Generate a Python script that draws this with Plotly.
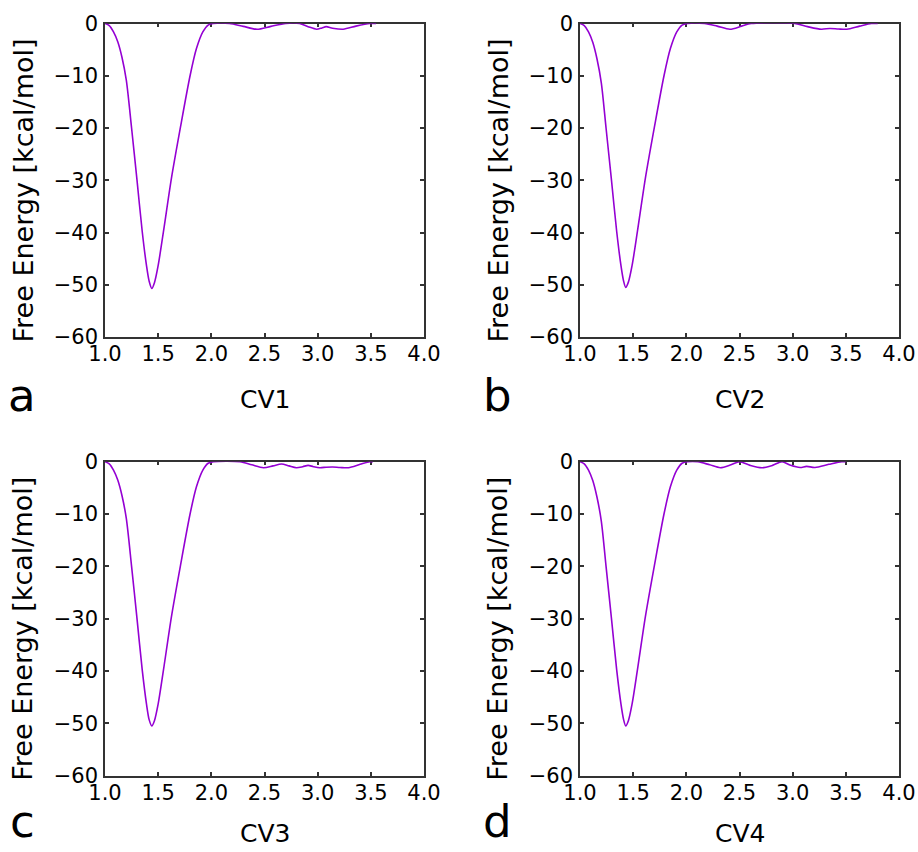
import plotly.graph_objects as go
from plotly.subplots import make_subplots

# free energy profiles
cv1_x = [1.00, 1.04, 1.08, 1.12, 1.16, 1.20, 1.25, 1.30, 1.35, 1.39, 1.415, 1.44, 1.465, 1.50, 1.55, 1.625, 1.71,
         1.80, 1.86, 1.92, 1.97, 2.02, 2.17, 2.30, 2.43, 2.56, 2.70, 2.83, 2.91, 2.99, 3.04, 3.08, 3.14, 3.24, 3.36,
         3.49, 3.55]
cv1_y = [0, -0.4, -1.6, -3.5, -6.5, -10.8, -20, -29.8, -39.8, -46.3, -49.3, -50.7, -49.6, -46.3, -39.8, -29.6, -19.8,
         -10, -4.8, -1.6, -0.3, 0, 0, -0.55, -1.1, -0.55, 0, 0, -0.6, -1.1, -0.85, -0.6, -0.9, -1.1, -0.5,
         0, 0]

cv2_x = [1.00, 1.04, 1.08, 1.12, 1.16, 1.20, 1.245, 1.295, 1.345, 1.385, 1.41, 1.43, 1.455, 1.49, 1.54, 1.615, 1.70,
         1.79, 1.85, 1.91, 1.96, 2.01, 2.17, 2.29, 2.41, 2.52, 2.61, 3.02, 3.14, 3.27, 3.35, 3.43, 3.51, 3.63, 3.74,
         3.80]
cv2_y = [0, -0.4, -1.6, -3.6, -6.8, -11.3, -20, -29.8, -39.8, -46.3, -49.3, -50.5, -49.5, -46.3, -39.8, -29.6, -19.8,
         -10, -4.8, -1.6, -0.3, 0, 0, -0.5, -1.1, -0.5, 0, 0, -0.6, -1.1, -0.95, -1.05, -1.1, -0.5, 0,
         0]

cv3_x = [1.00, 1.04, 1.08, 1.12, 1.16, 1.20, 1.25, 1.30, 1.35, 1.39, 1.415, 1.44, 1.465, 1.50, 1.55, 1.625, 1.71,
         1.80, 1.86, 1.92, 1.97, 2.02, 2.27, 2.38, 2.49, 2.58, 2.66, 2.73, 2.80, 2.86, 2.91, 2.96, 3.02, 3.08, 3.14,
         3.21, 3.29, 3.40, 3.49, 3.52]
cv3_y = [0, -0.4, -1.6, -3.5, -6.5, -10.8, -20, -29.8, -39.8, -46.3, -49.3, -50.5, -49.5, -46.3, -39.8, -29.6, -19.8,
         -10, -4.8, -1.6, -0.3, 0, 0, -0.6, -1.15, -0.8, -0.45, -0.8, -1.15, -0.95, -0.7, -0.95, -1.15, -1.05, -1.0,
         -1.1, -1.15, -0.5, 0, 0]

cv4_x = [1.00, 1.04, 1.08, 1.12, 1.16, 1.20, 1.245, 1.295, 1.345, 1.385, 1.41, 1.43, 1.455, 1.49, 1.54, 1.615, 1.70,
         1.79, 1.85, 1.91, 1.96, 2.01, 2.11, 2.22, 2.32, 2.42, 2.50, 2.60, 2.71, 2.81, 2.90, 2.98, 3.07, 3.13, 3.21,
         3.34, 3.46, 3.50]
cv4_y = [0, -0.4, -1.6, -3.6, -6.8, -11.3, -20, -29.8, -39.8, -46.3, -49.3, -50.5, -49.5, -46.3, -39.8, -29.6, -19.8,
         -10, -4.8, -1.6, -0.3, 0, 0, -0.6, -1.15, -0.6, 0, -0.7, -1.15, -0.7, 0, -0.7, -1.1, -0.9, -1.1,
         -0.5, 0, 0]

panel_letters = ["a", "b", "c", "d"]
cv_labels = ["CV1", "CV2", "CV3", "CV4"]
y_title = "Free Energy [kcal/mol]"

line_color = "#9400d3"
axis_color = "#333333"
font_family = "DejaVu Sans"
W, H = 918, 852

def px(v):
    return v / W

def py(v):
    return 1 - v / H

fig = make_subplots(rows=2, cols=2)

curves = [(cv1_x, cv1_y), (cv2_x, cv2_y), (cv3_x, cv3_y), (cv4_x, cv4_y)]
for i, (xs, ys) in enumerate(curves):
    fig.add_trace(go.Scatter(
        x=xs, y=ys, mode="lines",
        line=dict(color=line_color, width=1.6, shape="spline", smoothing=0.8),
        showlegend=False, hoverinfo="skip"
    ), row=i // 2 + 1, col=i % 2 + 1)

# plot boxes in page pixels: left, right, top, bottom
boxes = [(105, 424, 23.5, 337), (580, 899, 23.5, 337),
         (105, 424, 461.7, 775.6), (580, 899, 461.7, 775.6)]

axis_style = dict(
    showline=True, linecolor=axis_color, linewidth=1.5, mirror="ticks",
    ticks="inside", ticklen=4, tickwidth=1.5, tickcolor=axis_color,
    showgrid=False, zeroline=False, layer="below traces", automargin=False,
    tickfont=dict(family=font_family, size=21, color="black"),
)

for i, (l, r, t, b) in enumerate(boxes):
    n = "" if i == 0 else str(i + 1)
    fig.layout["xaxis" + n].update(
        domain=[px(l), px(r)], range=[1, 4], dtick=0.5, tick0=1, tickformat=".1f",
        ticklabelstandoff=-3, **axis_style)
    fig.layout["yaxis" + n].update(
        domain=[py(b), py(t)], range=[-60, 0], dtick=10,
        ticklabelstandoff=1, **axis_style)

    lower = i >= 2
    cx = (l + r) / 2
    # bottom row labels reach the page edge, so keep them just inside it
    fig.add_annotation(text=cv_labels[i], xref="paper", yref="paper",
                       x=px(cx), y=py(850) if lower else py(416),
                       xanchor="center", yanchor="bottom",
                       showarrow=False, font=dict(family=font_family, size=25, color="black"))
    fig.add_annotation(text=y_title, xref="paper", yref="paper", textangle=-90,
                       x=px(l - 82), y=py(t + 167), xanchor="center", yanchor="middle",
                       showarrow=False, font=dict(family=font_family, size=27, color="black"))
    fig.add_annotation(text=panel_letters[i], xref="paper", yref="paper",
                       x=px(l - 83), y=py(850) if lower else py(424),
                       xanchor="center", yanchor="bottom",
                       showarrow=False, font=dict(family=font_family, size=45, color="black"))

fig.update_layout(
    width=W, height=H,
    margin=dict(l=0, r=0, t=0, b=0, autoexpand=False),
    paper_bgcolor="white", plot_bgcolor="white",
    font=dict(family=font_family, color="black"),
)

# drop the default page margin so the figure fills the window exactly
fig.write_html("out.html", config={"displayModeBar": False},
               post_script="document.body.style.margin = '0px';")
